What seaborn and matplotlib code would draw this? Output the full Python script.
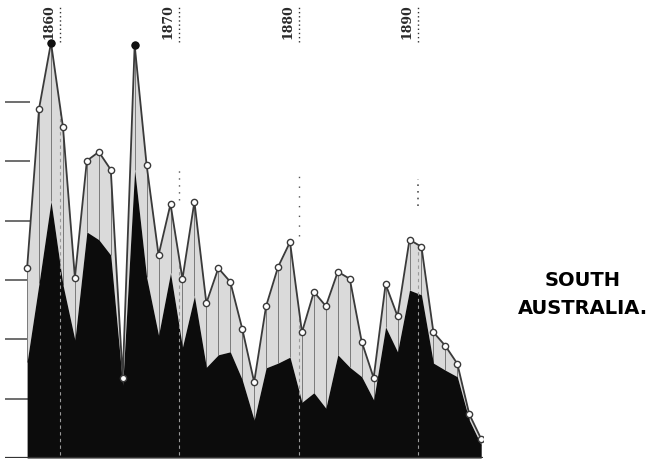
import numpy as np
import matplotlib
matplotlib.use("Agg")
import matplotlib.pyplot as plt
import seaborn as sns

# one observation per year, 1857-1895 (units = scale divisions of the chart)
years = list(range(1857, 1896))
upper = [3.20, 5.89, 7.00, 5.58, 3.04, 5.01, 5.16, 4.86, 1.35, 6.96,
         4.94, 3.42, 4.28, 3.02, 4.32, 2.61, 3.20, 2.97, 2.18, 1.28,
         2.56, 3.22, 3.64, 2.12, 2.80, 2.56, 3.14, 3.02, 1.96, 1.35,
         2.93, 2.39, 3.68, 3.56, 2.12, 1.89, 1.59, 0.74, 0.32]
lower = [1.62, 2.95, 4.33, 2.92, 1.99, 3.81, 3.68, 3.42, 1.23, 4.86,
         3.05, 2.07, 3.12, 1.87, 2.73, 1.53, 1.74, 1.79, 1.32, 0.64,
         1.52, 1.60, 1.70, 0.94, 1.10, 0.84, 1.74, 1.53, 1.37, 0.98,
         2.21, 1.79, 2.83, 2.75, 1.60, 1.48, 1.37, 0.64, 0.22]
peak_years = [1859, 1866]
decades = [1860, 1870, 1880, 1890]
decade_labels = ["1860", "1870", "1880", "1890"]
region = ["SOUTH", "AUSTRALIA."]

sns.set_style("white")
fig = plt.figure(figsize=(6.56, 4.62), dpi=100)
ax = fig.add_axes([5 / 656, 4 / 462, 478 / 656, 458 / 462])

x = np.array(years) + 0.25
up = np.array(upper)
lo = np.array(lower)

ax.fill_between(x, lo, up, color="#dadada", lw=0, zorder=1)
ax.vlines(x, lo, up, color="#7a7a7a", lw=0.7, zorder=2)
ax.fill_between(x, 0, lo, color="#0c0c0c", lw=0, zorder=3)

# decade markers
for d in decades:
    ax.vlines(d, 7.02, 7.62, color="#333333", lw=1.0, linestyles=(0, (1, 2)), zorder=4)
    ux = np.interp(d, x, up)
    ax.vlines(d, 0.05, ux, color="#9a9a9a", lw=0.8, linestyles=(0, (3, 3)), zorder=4)
ax.vlines(1870, 4.35, 4.85, color="#555555", lw=1.0, linestyles=(0, (1, 4)), zorder=4)
ax.vlines(1880, 3.75, 4.75, color="#555555", lw=1.0, linestyles=(0, (1, 6)), zorder=4)
ax.vlines(1890, 4.25, 4.70, color="#555555", lw=1.2, linestyles=(0, (1, 3)), zorder=4)

sns.lineplot(x=x, y=up, ax=ax, color="#3a3a3a", lw=1.3, marker="o",
             markersize=4.5, markerfacecolor="white", markeredgecolor="#3a3a3a",
             markeredgewidth=1.0, zorder=5)
pk = [years.index(p) for p in peak_years]
ax.plot(x[pk], up[pk], "o", color="#111111", markersize=5, zorder=6)

for d, lab in zip(decades, decade_labels):
    ax.text(d - 0.95, 7.35, lab, rotation=90, ha="center", va="center",
            fontsize=9, fontweight="bold", family="DejaVu Serif", color="#2a2a2a")

# scale ticks on the left and the base line
ax.hlines(range(1, 7), 1855.4, 1857.5, color="#555555", lw=1.2, zorder=0)
ax.axhline(0, color="#333333", lw=1.6, zorder=7)

ax.set_xlim(1855.4, 1895.4)
ax.set_ylim(0, 7.72)
ax.set_xticks([])
ax.set_yticks([])
sns.despine(ax=ax, left=True, bottom=True)

fig.text(583 / 656, 1 - 280 / 462, region[0], ha="center", va="center",
         fontsize=14, fontweight="bold", family="DejaVu Sans", color="black")
fig.text(583 / 656, 1 - 308 / 462, region[1], ha="center", va="center",
         fontsize=14, fontweight="bold", family="DejaVu Sans", color="black")

fig.savefig("out.png", dpi=100)
